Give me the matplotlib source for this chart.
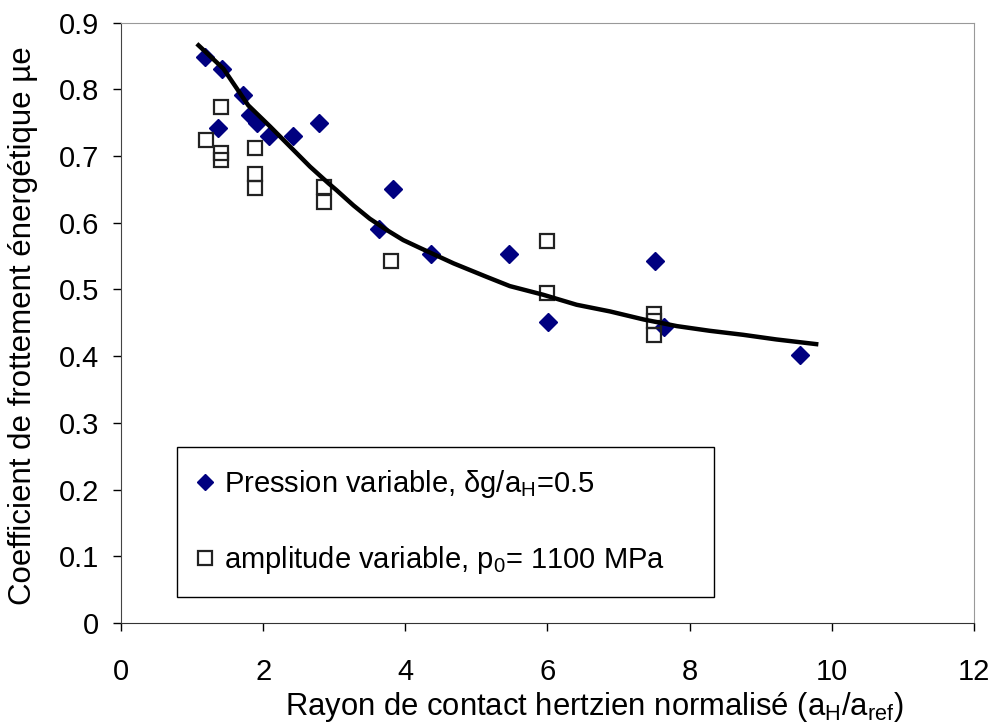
import numpy as np
import matplotlib.pyplot as plt

# ===== data =====
# series 1: pression variable (navy diamonds)
press_x = [1.18, 1.42, 1.72, 1.37, 1.81, 1.91, 2.08, 2.42, 2.78,
           3.82, 3.63, 4.36, 5.46, 6.01, 7.51, 7.64, 9.55]
press_y = [0.849, 0.831, 0.791, 0.742, 0.761, 0.749, 0.730, 0.730, 0.749,
           0.651, 0.590, 0.553, 0.553, 0.451, 0.542, 0.443, 0.402]

# series 2: amplitude variable (open squares)
ampl_x = [1.41, 1.19, 1.41, 1.41, 1.88, 1.88, 1.88, 2.86, 2.86,
          3.80, 6.00, 6.00, 7.50, 7.50, 7.50]
ampl_y = [0.773, 0.724, 0.704, 0.694, 0.712, 0.673, 0.652, 0.654, 0.631,
          0.543, 0.573, 0.494, 0.463, 0.453, 0.432]

# trend curve
trend_x = [1.09, 1.44, 1.79, 2.10, 2.38, 2.66, 2.92, 3.03, 3.27, 3.50,
           3.74, 3.97, 4.21, 4.68, 5.14, 5.47, 5.94, 6.41, 6.88, 7.35,
           7.82, 8.28, 8.75, 9.22, 9.78]
trend_y = [0.866, 0.831, 0.776, 0.744, 0.714, 0.684, 0.659, 0.649, 0.626,
           0.606, 0.589, 0.574, 0.562, 0.539, 0.519, 0.505, 0.492, 0.477,
           0.467, 0.455, 0.445, 0.438, 0.432, 0.425, 0.418]

x_ticks = [0, 2, 4, 6, 8, 10, 12]
y_ticks = [0, 0.1, 0.2, 0.3, 0.4, 0.5, 0.6, 0.7, 0.8, 0.9]
y_tick_labels = ["0", "0.1", "0.2", "0.3", "0.4", "0.5", "0.6", "0.7", "0.8", "0.9"]

plt.rcParams["font.family"] = ["Liberation Sans", "DejaVu Sans"]

fig = plt.figure(figsize=(9.91, 7.25), dpi=100)
ax = fig.add_axes([0.1221, 0.1408, 0.8607, 0.8280])

ax.plot(press_x, press_y, linestyle="none", marker="D", markersize=9,
        color="#000080", markeredgecolor="#000080",
        label=r"Pression variable, $\mathregular{\delta g/a_H}$=0.5", zorder=3)
ax.plot(ampl_x, ampl_y, linestyle="none", marker="s", markersize=10.5,
        markerfacecolor="none", markeredgecolor="#222222", markeredgewidth=1.6,
        label=r"amplitude variable, $\mathregular{p_0}$= 1100 MPa", zorder=3)
ax.plot(trend_x, trend_y, color="black", linewidth=3.2, zorder=4)

ax.set_xlim(0, 12)
ax.set_ylim(0, 0.9)
ax.set_xticks(x_ticks)
ax.set_yticks(y_ticks)
ax.set_yticklabels(y_tick_labels)
ax.tick_params(axis="both", direction="out", length=6, width=1,
               labelsize=21, colors="black")
ax.tick_params(axis="y", pad=10)
ax.tick_params(axis="x", pad=19)

ax.spines["left"].set_color("#444444")
ax.spines["bottom"].set_color("#333333")
ax.spines["top"].set_color("#999999")
ax.spines["right"].set_color("#999999")

ax.set_xlabel(r"Rayon de contact hertzien normalisé ($\mathregular{a_H/a_{ref}}$)",
              fontsize=22.3)
ax.set_ylabel("Coefficient de frottement énergétique µe", fontsize=22.5)
ax.xaxis.set_label_coords(0.5545, -0.112)
ax.yaxis.set_label_coords(-0.097, 0.496)

leg = ax.legend(loc="lower left", bbox_to_anchor=(0.0657, 0.043, 0.63, 0.25),
                mode="expand", borderaxespad=0, fancybox=False, framealpha=1,
                edgecolor="black", fontsize=21, labelspacing=1.52,
                handletextpad=0.4, handlelength=0.5, borderpad=0.72,
                markerscale=0.9)
leg.get_frame().set_linewidth(1.0)

fig.savefig("out.png", dpi=100)
plt.close(fig)
